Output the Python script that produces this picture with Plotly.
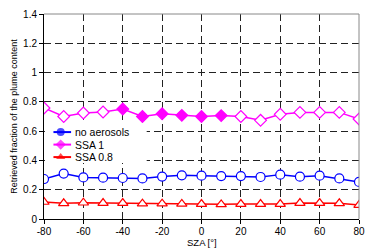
import plotly.graph_objects as go

sza = [-80, -70, -60, -50, -40, -30, -20, -10, 0, 10, 20, 30, 40, 50, 60, 70, 80]
no_aerosols = [0.273, 0.31, 0.284, 0.282, 0.28, 0.277, 0.29, 0.298, 0.296, 0.293, 0.293, 0.287, 0.303, 0.289, 0.296, 0.277, 0.253]
ssa1 = [0.758, 0.70, 0.724, 0.731, 0.751, 0.70, 0.719, 0.708, 0.70, 0.706, 0.70, 0.674, 0.715, 0.728, 0.728, 0.728, 0.683]
ssa1_filled = [False, False, False, False, True, True, True, True, True, True, False, False, False, False, False, False, False]
ssa08 = [0.116, 0.107, 0.111, 0.109, 0.109, 0.105, 0.105, 0.103, 0.102, 0.100, 0.102, 0.102, 0.102, 0.109, 0.109, 0.107, 0.095]

x_tickvals = [-80, -60, -40, -20, 0, 20, 40, 60, 80]
x_ticktext = ["-80", "-60", "-40", "-20", "0", "20", "40", "60", "80"]
y_tickvals = [0, 0.2, 0.4, 0.6, 0.8, 1.0, 1.2, 1.4]
y_ticktext = ["0", "0.2", "0.4", "0.6", "0.8", "1", "1.2", "1.4"]

series_names = ["no aerosols", "SSA 1", "SSA 0.8"]

BLUE = "#0000ff"
MAG = "#ff00ff"
RED = "#ff0000"
FONT = "Liberation Sans, Arial, sans-serif"

fig = go.Figure()

fig.add_trace(go.Scatter(x=sza, y=no_aerosols, mode="lines+markers", name=series_names[0], showlegend=False,
                         line=dict(color=BLUE, width=1.5),
                         marker=dict(symbol="circle", size=9, color="white", line=dict(color=BLUE, width=1.2))))
fig.add_trace(go.Scatter(x=sza, y=ssa1, mode="lines+markers", name=series_names[1], showlegend=False,
                         line=dict(color=MAG, width=1.5),
                         marker=dict(symbol="diamond", size=9,
                                     color=[MAG if f else "white" for f in ssa1_filled],
                                     line=dict(color=MAG, width=1.2))))
fig.add_trace(go.Scatter(x=sza, y=ssa08, mode="lines+markers", name=series_names[2], showlegend=False,
                         line=dict(color=RED, width=1.5),
                         marker=dict(symbol="triangle-up", size=9, color="white", line=dict(color=RED, width=1.2))))

# compact legend drawn on an overlay axis spanning the plot area (0..1)
box_x0, box_x1, box_y0, box_y1 = 0.003, 0.326, 0.273, 0.468
fig.add_trace(go.Scatter(x=[box_x0, box_x1, box_x1, box_x0, box_x0], y=[box_y0, box_y0, box_y1, box_y1, box_y0],
                         xaxis="x2", yaxis="y2", mode="lines", fill="toself", fillcolor="white",
                         line=dict(width=0, color="white"), showlegend=False, hoverinfo="skip"))
leg_y = [0.424, 0.363, 0.302]
leg_styles = [(BLUE, "circle"), (MAG, "diamond"), (RED, "triangle-up")]
lx0, lxm, lx1, ltx = 0.030, 0.053, 0.086, 0.092
for name, (col, sym), yy in zip(series_names, leg_styles, leg_y):
    fig.add_trace(go.Scatter(x=[lx0, lxm, lx1], y=[yy, yy, yy], xaxis="x2", yaxis="y2",
                             mode="lines+markers", showlegend=False, hoverinfo="skip",
                             line=dict(color=col, width=2),
                             marker=dict(symbol=sym, size=[0, 8, 0], color=col, line=dict(width=0))))
    fig.add_annotation(x=ltx, y=yy, xref="x2", yref="y2", text=name, showarrow=False,
                       xanchor="left", yanchor="middle", font=dict(size=10.5, family=FONT, color="black"))

fig.update_layout(
    width=366, height=249,
    margin=dict(l=44, r=7, t=14, b=30),
    paper_bgcolor="white", plot_bgcolor="white",
    font=dict(family=FONT, size=10, color="black"),
    showlegend=False,
    xaxis=dict(range=[-80, 80], tickvals=x_tickvals, ticktext=x_ticktext, showgrid=True,
               gridcolor="#222", griddash="7px,4px", gridwidth=1,
               showline=True, linecolor="black", linewidth=1,
               ticks="outside", ticklen=4, tickcolor="black", zeroline=False,
               tickfont=dict(size=10), automargin=False, ticklabelstandoff=-1,
               ticklabeloverflow="allow"),
    yaxis=dict(range=[0, 1.4], tickvals=y_tickvals, ticktext=y_ticktext, showgrid=True,
               gridcolor="#222", griddash="7px,4px", gridwidth=1,
               showline=True, linecolor="black", linewidth=1,
               ticks="outside", ticklen=4, tickcolor="black", zeroline=False,
               tickfont=dict(size=10), automargin=False,
               title=dict(text="Retrieved fraction of the plume content", font=dict(size=9), standoff=3)),
    xaxis2=dict(overlaying="x", range=[0, 1], visible=False, fixedrange=True),
    yaxis2=dict(overlaying="y", range=[0, 1], visible=False, fixedrange=True),
)

# gray frame at top and right
fig.add_shape(type="line", xref="paper", yref="paper", x0=0, x1=1, y0=1, y1=1, line=dict(color="#888", width=1))
fig.add_shape(type="line", xref="paper", yref="paper", x0=1, x1=1, y0=0, y1=1, line=dict(color="#888", width=1))

# x-axis title at the bottom edge
fig.add_annotation(x=0.5, y=-0.146, xref="paper", yref="paper", text="SZA [°]", showarrow=False,
                   xanchor="center", yanchor="bottom", borderpad=0,
                   font=dict(size=9.5, family=FONT, color="black"))

fig.write_html("out.html", config={"displayModeBar": False},
               post_script="document.body.style.margin='0';")
